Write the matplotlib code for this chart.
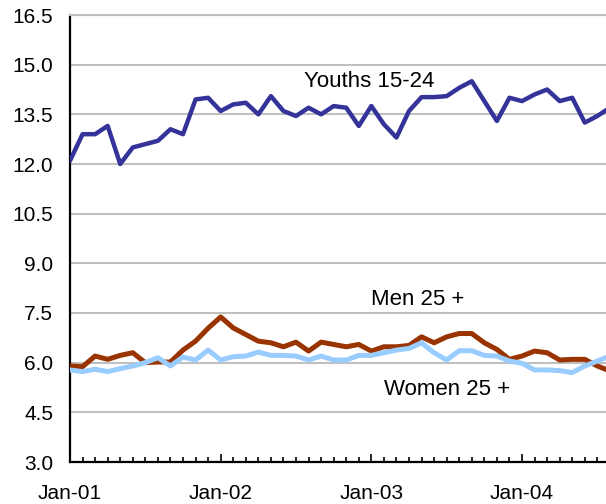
import matplotlib
matplotlib.use("Agg")
import matplotlib.pyplot as plt
import numpy as np

plt.rcParams['font.family'] = ['Liberation Sans', 'DejaVu Sans']

# Monthly unemployment rates, Jan-01 .. Aug-04
youth = [12.1, 12.9, 12.9, 13.15, 12.0, 12.5, 12.6, 12.7, 13.05, 12.9, 13.95, 14.0,
         13.6, 13.8, 13.85, 13.5, 14.05, 13.6, 13.45, 13.7, 13.5, 13.75, 13.7, 13.15,
         13.75, 13.2, 12.8, 13.6, 14.02, 14.02, 14.05, 14.3, 14.5, 13.9, 13.3, 14.0,
         13.9, 14.1, 14.25, 13.9, 14.0, 13.25, 13.45, 13.7]
men = [5.9, 5.88, 6.2, 6.1, 6.22, 6.3, 6.0, 6.02, 6.02, 6.38, 6.65, 7.04,
       7.38, 7.05, 6.85, 6.65, 6.6, 6.48, 6.62, 6.35, 6.62, 6.55, 6.48, 6.55,
       6.35, 6.48, 6.48, 6.52, 6.78, 6.6, 6.78, 6.88, 6.88, 6.6, 6.4, 6.1,
       6.2, 6.35, 6.3, 6.08, 6.1, 6.1, 5.9, 5.75]
women = [5.78, 5.73, 5.8, 5.73, 5.82, 5.9, 6.0, 6.15, 5.9, 6.17, 6.08, 6.38,
         6.08, 6.18, 6.2, 6.32, 6.22, 6.22, 6.2, 6.08, 6.2, 6.08, 6.08, 6.22,
         6.22, 6.3, 6.38, 6.43, 6.6, 6.3, 6.08, 6.36, 6.36, 6.22, 6.2, 6.05,
         5.98, 5.78, 5.78, 5.76, 5.7, 5.9, 6.05, 6.2]
year_labels = ["Jan-01", "Jan-02", "Jan-03", "Jan-04"]
y_ticks = [3.0, 4.5, 6.0, 7.5, 9.0, 10.5, 12.0, 13.5, 15.0, 16.5]

x = np.arange(len(youth))

fig = plt.figure(figsize=(6.06, 5.04), dpi=100)
ax = fig.add_axes([70/606, 42/504, 1 - 70/606, (462 - 15)/504])

ax.plot(x, youth, color="#333399", lw=3.2, solid_joinstyle="round", solid_capstyle="round", zorder=3)
ax.plot(x, men, color="#993300", lw=3.6, solid_joinstyle="round", solid_capstyle="round", zorder=3)
ax.plot(x, women, color="#99CCFF", lw=3.6, solid_joinstyle="round", solid_capstyle="round", zorder=4)

ax.set_ylim(3.0, 16.5)
ax.set_xlim(0, 42.69)
ax.set_yticks(y_ticks)
ax.set_yticklabels([f"{v:.1f}" for v in y_ticks])
ax.set_xticks([12 * i for i in range(len(year_labels))])
ax.set_xticklabels(year_labels)
ax.set_xticks(np.arange(0, 43), minor=True)

ax.yaxis.grid(True, color="#c0c0c0", lw=1.5)
ax.set_axisbelow(True)
ax.tick_params(axis="y", length=0, pad=12, labelsize=15)
ax.tick_params(axis="x", which="major", direction="in", length=6, width=1.2, pad=16, labelsize=15)
ax.tick_params(axis="x", which="minor", direction="in", length=3.5, width=1.2)

ax.spines["right"].set_visible(False)
ax.spines["top"].set_color("#c0c0c0")
ax.spines["top"].set_linewidth(1.5)
for s in ["left", "bottom"]:
    ax.spines[s].set_linewidth(1.6)
    ax.spines[s].set_color("black")
ax.spines["bottom"].set_zorder(5)

ax.text(23.8, 14.48, "Youths 15-24", ha="center", va="center", fontsize=16)
ax.text(27.7, 7.92, "Men 25 +", ha="center", va="center", fontsize=16)
ax.text(30.0, 5.2, "Women 25 +", ha="center", va="center", fontsize=16)

fig.savefig("out.png", dpi=100)
